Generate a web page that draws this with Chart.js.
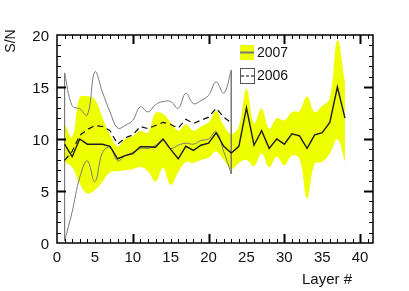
<!DOCTYPE html>
<html>
<head>
<meta charset="utf-8">
<title>S/N per layer</title>
<script src="https://cdn.jsdelivr.net/npm/chart.js@4.4.1/dist/chart.umd.min.js"></script>
<style>
  html, body { margin: 0; padding: 0; background: #fff; }
  #wrap { width: 409px; height: 291px; }
</style>
</head>
<body>
<div id="wrap"><canvas id="sn"></canvas></div>
<script>
// 2007: mean S/N with yellow spread band
const layers2007 = [1, 2, 3, 4, 5, 6, 7, 8, 9, 10, 11, 12, 13, 14, 15, 16, 17, 18, 19,
                    20, 21, 22, 23, 24, 25, 26, 27, 28, 29, 30, 31, 32, 33, 34, 35, 36, 37, 38];
const mean2007 = [9.5, 8.3, 10.0, 9.5, 9.5, 9.5, 9.3, 8.1, 8.4, 8.6, 9.25, 9.25, 9.2, 10.0, 9.0, 8.1, 9.3, 8.9, 9.4,
                  9.6, 10.6, 9.3, 8.65, 9.3, 13.0, 9.4, 10.8, 9.1, 10.0, 9.5, 10.5, 10.3, 9.1, 10.4, 10.6, 11.6, 15.0, 12.0];
const upper2007 = [11.5, 10.2, 14.0, 14.1, 13.8, 12.1, 10.4, 9.3, 10.0, 10.3, 10.8, 10.6, 12.5, 12.4, 11.6, 10.8, 11.4, 10.8, 11.2,
                   11.6, 12.7, 11.3, 10.5, 11.2, 14.8, 11.5, 12.9, 11.0, 12.0, 11.8, 12.6, 12.7, 14.1, 12.6, 13.2, 13.9, 19.5, 15.5];
const lower2007 = [7.8, 7.3, 5.7, 4.75, 5.1, 5.9, 6.8, 6.9, 7.0, 7.1, 7.3, 6.9, 5.9, 7.2, 5.6, 6.8, 7.8, 7.7, 8.0,
                   8.2, 8.8, 8.0, 7.1, 7.7, 8.0, 7.4, 8.6, 7.3, 8.3, 7.5, 8.4, 8.1, 4.3, 7.6, 7.8, 8.6, 10.0, 7.8];

// 2006: dashed mean inside an open outline
const layers2006 = [1, 2, 3, 4, 5, 6, 7, 8, 9, 10, 11, 12, 13, 14, 15, 16, 17, 18, 19, 20, 21, 22, 23];
const mean2006 = [7.95, 8.8, 10.35, 10.9, 11.3, 11.2, 10.8, 9.5, 10.1, 10.4, 11.2, 11.0,
                  11.3, 11.6, 11.4, 11.05, 11.9, 11.5, 11.8, 12.1, 12.95, 12.1, 11.55];
const upper2006 = [16.35, 13.2, 12.9, 12.3, 16.45, 14.5, 12.6, 11.05, 11.3, 11.8, 13.1, 12.6,
                   13.3, 13.6, 13.6, 12.95, 14.4, 13.4, 13.7, 14.2, 15.5, 14.4, 16.6];
const lower2006 = [0.2, 3.0, 6.3, 7.9, 5.9, 8.7, 9.2, 7.9, 8.4, 8.7, 9.1, 9.1,
                   9.4, 9.9, 9.1, 9.4, 9.6, 9.5, 9.85, 10.0, 10.7, 8.8, 6.65];

const xTickLabels = [0, 5, 10, 15, 20, 25, 30, 35, 40];
const yTickLabels = [0, 5, 10, 15, 20];
const legendLabels = ['2007', '2006'];

const yellow = '#eeff00';
const thinGrey = '#7a7a7a';
const family = '"Liberation Sans", Arial, sans-serif';

function pts(xs, ys) {
    return xs.map((x, i) => ({x: x, y: ys[i]}));
}

const first = 0;
const last = layers2006.length - 1;

const frameAndText = {
    id: 'frameAndText',
    afterDraw(chart) {
        const ctx = chart.ctx;
        const a = chart.chartArea;
        const x = chart.scales.x;
        const y = chart.scales.y;
        ctx.save();

        // ticks pointing inward on all four sides
        ctx.strokeStyle = '#000';
        for (let v = 1; v <= x.max; v++) {
            const px = Math.round(x.getPixelForValue(v)) + 0.5;
            const len = v % 10 === 0 ? 9 : 4;
            ctx.lineWidth = v % 10 === 0 ? 2 : 1;
            ctx.beginPath();
            ctx.moveTo(px, a.bottom); ctx.lineTo(px, a.bottom - len);
            ctx.moveTo(px, a.top); ctx.lineTo(px, a.top + len);
            ctx.stroke();
        }
        for (let v = 1; v < y.max; v++) {
            const py = Math.round(y.getPixelForValue(v)) + 0.5;
            const len = v % 5 === 0 ? 9 : 4;
            ctx.lineWidth = v % 5 === 0 ? 2 : 1;
            ctx.beginPath();
            ctx.moveTo(a.left, py); ctx.lineTo(a.left + len, py);
            ctx.moveTo(a.right, py); ctx.lineTo(a.right - len, py);
            ctx.stroke();
        }

        ctx.lineWidth = 1.5;
        ctx.strokeRect(a.left, a.top, a.right - a.left, a.bottom - a.top);

        // tick labels
        ctx.fillStyle = '#111';
        ctx.font = '15px ' + family;
        ctx.textAlign = 'center';
        ctx.textBaseline = 'middle';
        xTickLabels.forEach(v => ctx.fillText(String(v), x.getPixelForValue(v), a.bottom + 15));
        ctx.textAlign = 'right';
        yTickLabels.forEach(v => ctx.fillText(String(v), a.left - 8, y.getPixelForValue(v) + 2));

        // axis titles
        ctx.textAlign = 'right';
        ctx.fillText('Layer #', 352, 280);
        ctx.save();
        ctx.translate(11, 41);
        ctx.rotate(-Math.PI / 2);
        ctx.textAlign = 'center';
        ctx.font = '14px ' + family;
        ctx.fillText('S/N', 0, 0);
        ctx.restore();

        // legend
        ctx.fillStyle = yellow;
        ctx.fillRect(240, 45, 14, 15);
        ctx.strokeStyle = '#777';
        ctx.lineWidth = 2;
        ctx.beginPath(); ctx.moveTo(240, 52.5); ctx.lineTo(254, 52.5); ctx.stroke();
        ctx.strokeStyle = '#555';
        ctx.lineWidth = 1;
        ctx.strokeRect(240.5, 68.5, 14, 15);
        ctx.strokeStyle = '#000';
        ctx.setLineDash([3, 2]);
        ctx.beginPath(); ctx.moveTo(241, 76); ctx.lineTo(254, 76); ctx.stroke();
        ctx.setLineDash([]);
        ctx.fillStyle = '#111';
        ctx.font = '14px ' + family;
        ctx.textAlign = 'left';
        ctx.fillText(legendLabels[0], 257, 53);
        ctx.fillText(legendLabels[1], 257, 76.5);

        ctx.restore();
    }
};

new Chart(document.getElementById('sn'), {
    type: 'line',
    data: {
        datasets: [
            {
                label: '2007 mean',
                data: pts(layers2007, mean2007),
                borderColor: '#1e1e1e',
                borderWidth: 1.4,
                tension: 0,
                order: 0
            },
            {
                label: '2006 mean',
                data: pts(layers2006, mean2006),
                borderColor: '#111',
                borderWidth: 1.2,
                borderDash: [6, 4],
                tension: 0,
                order: 1
            },
            {
                label: '2006 upper',
                data: pts(layers2006, upper2006),
                borderColor: thinGrey,
                borderWidth: 1,
                tension: 0.4,
                order: 2
            },
            {
                label: '2006 lower',
                data: pts(layers2006, lower2006),
                borderColor: thinGrey,
                borderWidth: 1,
                tension: 0.4,
                order: 3
            },
            {
                label: '2006 start',
                data: [{x: layers2006[first], y: upper2006[first]}, {x: layers2006[first], y: lower2006[first]}],
                borderColor: thinGrey,
                borderWidth: 1,
                order: 4
            },
            {
                label: '2006 end',
                data: [{x: layers2006[last], y: upper2006[last]}, {x: layers2006[last], y: lower2006[last]}],
                borderColor: thinGrey,
                borderWidth: 1,
                order: 5
            },
            {
                label: '2007 upper',
                data: pts(layers2007, upper2007),
                borderWidth: 0,
                borderColor: yellow,
                backgroundColor: yellow,
                fill: '+1',
                tension: 0.4,
                order: 6
            },
            {
                label: '2007 lower',
                data: pts(layers2007, lower2007),
                borderWidth: 0,
                borderColor: yellow,
                tension: 0.4,
                order: 7
            }
        ]
    },
    options: {
        animation: false,
        responsive: true,
        maintainAspectRatio: false,
        layout: { padding: { left: 57, right: 36, top: 35, bottom: 48 } },
        elements: { point: { radius: 0, hoverRadius: 0 } },
        plugins: {
            legend: { display: false },
            tooltip: { enabled: false },
            filler: { propagate: false }
        },
        scales: {
            x: { type: 'linear', min: 0, max: 41.7, display: false },
            y: { type: 'linear', min: 0, max: 20, display: false }
        }
    },
    plugins: [frameAndText]
});
</script>
</body>
</html>
